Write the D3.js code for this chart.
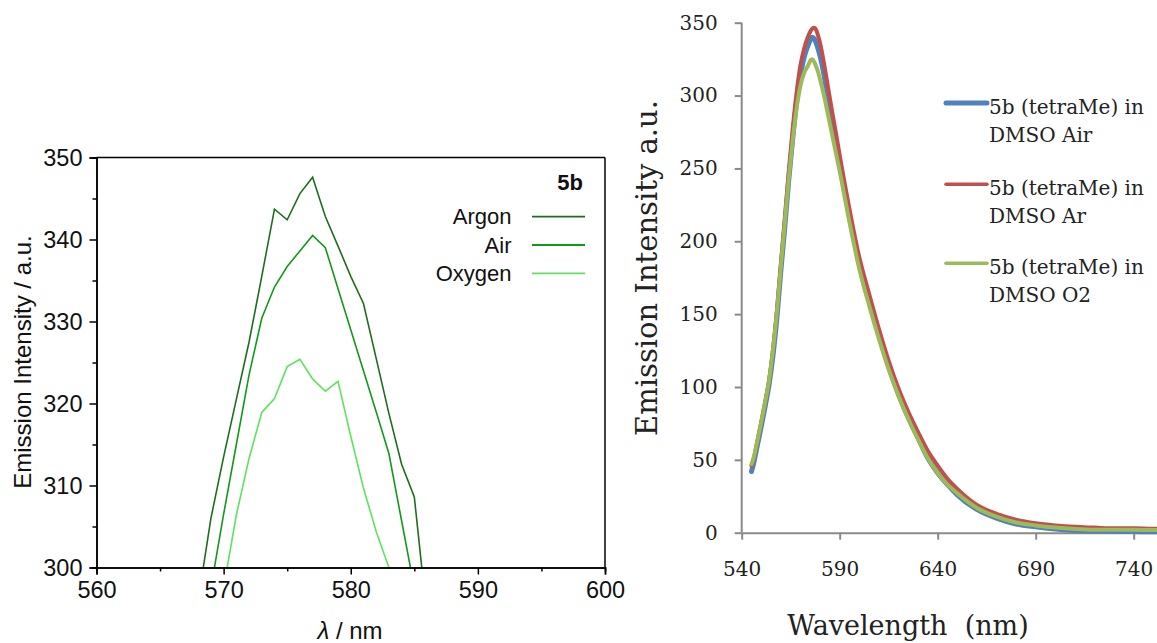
<!DOCTYPE html>
<html>
<head>
<meta charset="utf-8">
<script src="https://cdn.jsdelivr.net/npm/d3@7"></script>
<style>
html,body{margin:0;padding:0;background:#fff;}
svg{display:block;}
</style>
</head>
<body>
<script>
// ---------- Left panel data (λ / nm vs Emission Intensity) ----------
const leftArgonX = [568,569,570,571,572,573,574,575,576,577,578,579,580,581,582,583,584,585,586];
const leftArgonY = [296,306,313.5,320.5,327.5,335.5,343.7,342.4,345.6,347.6,342.8,339.2,335.5,332.2,325.5,318.8,312.6,308.6,294];
const leftAirX = [569,570,571,572,573,574,575,576,577,578,579,580,581,582,583,584,585];
const leftAirY = [297.5,306.5,315,323.5,330.4,334.2,336.7,338.6,340.5,339,334,329,324,319,313.9,305.7,297.5];
const leftOxyX = [570,571,572,573,574,575,576,577,578,579,580,581,582,583,584];
const leftOxyY = [297.5,306.4,313.3,318.9,320.6,324.5,325.4,323,321.5,322.7,316,309.7,304.4,300,296];
const leftSeriesNames = ["Argon","Air","Oxygen"];
const leftColors = ["#1d6e1d","#12991a","#5de35d"];
const leftXTicks = [560,570,580,590,600];
const leftYTicks = [300,310,320,330,340,350];

// ---------- Right panel data (Wavelength (nm) vs Emission Intensity a.u.) ----------
const rightX = [545,546,548,550,552,554,556,558,560,562,564,566,568,570,572,574,575,576,577,578,579,580,582,584,586,588,590,595,600,605,610,615,620,625,630,635,640,645,650,660,670,680,690,700,710,720,730,740,750,756];
const rightAir = [42,47,60,73,87,102,122,148,180,210,242,270,296,314,327,335,338,340,339,336,332,327,314,298,283,268,253,217,184,159,136,114,95,79,65,51,41,33,26,16,10,6,4,2.5,1.5,1.2,1,0.8,0.6,0.6];
const rightAr = [46,50,63,76,90,105,126,153,185,216,248,277,302,321,333,341,344,346,346.5,345,341,336,322,306,290,275,259,222,189,164,140,118,99,83,69,56,46,37,30,19,13,9,6.5,5,4,3.5,3,3,2.7,2.7];
const rightO2 = [47,51,63,76,90,105,126,152,183,213,243,269,291,307,316,321,324,325,323,320,316,311,300,287,274,261,248,213,181,156,133,112,94,78,64,51,41,33,27,17,11,7,5,3.5,2.5,2,2,2,1.8,1.8];
const rightNames = ["5b (tetraMe) in|DMSO Air","5b (tetraMe) in|DMSO Ar","5b (tetraMe) in|DMSO O2"];
const rightColors = ["#4f81bd","#c0504d","#9bbb59"];
const rightXTicks = [540,590,640,690,740];
const rightYTicks = [0,50,100,150,200,250,300,350];

const W = 1157, H = 643;
const svg = d3.select("body").append("svg").attr("width", W).attr("height", H);
svg.append("rect").attr("width", W).attr("height", H).attr("fill", "#fff");

// ================= LEFT PANEL =================
const L = {x0: 96.5, x1: 605, y0: 157.5, y1: 567.5};
const lx = d3.scaleLinear().domain([560, 600]).range([L.x0, L.x1]);
const ly = d3.scaleLinear().domain([300, 350]).range([L.y1, L.y0]);
const lfont = "'Liberation Sans', Arial, sans-serif";

svg.append("clipPath").attr("id", "clipL").append("rect")
  .attr("x", L.x0).attr("y", L.y0).attr("width", L.x1 - L.x0).attr("height", L.y1 - L.y0);

const leftSeries = [
  {name: leftSeriesNames[0], xs: leftArgonX, ys: leftArgonY, color: leftColors[0]},
  {name: leftSeriesNames[1], xs: leftAirX, ys: leftAirY, color: leftColors[1]},
  {name: leftSeriesNames[2], xs: leftOxyX, ys: leftOxyY, color: leftColors[2]}
];
const lline = d3.line().x(d => lx(d[0])).y(d => ly(d[1]));
const gL = svg.append("g").attr("clip-path", "url(#clipL)");
leftSeries.forEach(s => {
  gL.append("path").datum(s.xs.map((x, i) => [x, s.ys[i]]))
    .attr("d", lline).attr("fill", "none").attr("stroke", s.color).attr("stroke-width", 1.6)
    .attr("stroke-linejoin", "miter");
});

// frame top/right
svg.append("line").attr("x1", L.x0).attr("x2", L.x1).attr("y1", L.y0).attr("y2", L.y0).attr("stroke", "#000").attr("stroke-width", 1.5);
svg.append("line").attr("x1", L.x1).attr("x2", L.x1).attr("y1", L.y0).attr("y2", L.y1).attr("stroke", "#000").attr("stroke-width", 1.5);

// axes
const lxAxis = svg.append("g").attr("transform", `translate(0,${L.y1})`)
  .call(d3.axisBottom(lx).tickValues(leftXTicks).tickSize(7).tickPadding(7).tickFormat(d3.format("d")));
const lxMinor = svg.append("g").attr("transform", `translate(0,${L.y1})`)
  .call(d3.axisBottom(lx).tickValues([565,575,585,595]).tickSize(4).tickFormat(""));
const lyAxis = svg.append("g").attr("transform", `translate(${L.x0},0)`)
  .call(d3.axisLeft(ly).tickValues(leftYTicks).tickSize(7).tickPadding(7).tickFormat(d3.format("d")));
const lyMinor = svg.append("g").attr("transform", `translate(${L.x0},0)`)
  .call(d3.axisLeft(ly).tickValues([305,315,325,335,345]).tickSize(4).tickFormat(""));
[lxAxis, lxMinor, lyAxis, lyMinor].forEach(g => {
  g.select(".domain").attr("stroke", "#000").attr("stroke-width", 1.5);
  g.selectAll(".tick line").attr("stroke", "#000").attr("stroke-width", 1.5);
  g.selectAll("text").attr("font-family", lfont).attr("font-size", 23.5).attr("fill", "#111");
});

// axis titles
svg.append("text").attr("transform", "translate(31,362) rotate(-90)")
  .attr("text-anchor", "middle").attr("font-family", lfont).attr("font-size", 24).attr("fill", "#111")
  .text("Emission Intensity / a.u.");
const lxt = svg.append("text").attr("x", 350).attr("y", 639).attr("text-anchor", "middle")
  .attr("font-family", lfont).attr("font-size", 24).attr("fill", "#111");
lxt.append("tspan").attr("font-style", "italic").text("λ");
lxt.append("tspan").text(" / nm");

// legend
svg.append("text").attr("x", 583).attr("y", 190).attr("text-anchor", "end")
  .attr("font-family", lfont).attr("font-size", 22).attr("font-weight", "bold").attr("fill", "#111").text("5b");
leftSeries.forEach((s, i) => {
  const yy = 216.7 + i * 28.3;
  svg.append("text").attr("x", 511.5).attr("y", yy + 7.5).attr("text-anchor", "end")
    .attr("font-family", lfont).attr("font-size", 22).attr("fill", "#111").text(s.name);
  svg.append("line").attr("x1", 532).attr("x2", 585).attr("y1", yy).attr("y2", yy)
    .attr("stroke", s.color).attr("stroke-width", 1.8);
});

// ================= RIGHT PANEL =================
const R = {x0: 741.7, y0: 22.7, y1: 532.7};
const rx = d3.scaleLinear().domain([540, 760]).range([R.x0, R.x0 + 220 * 1.96]);
const ry = d3.scaleLinear().domain([0, 350]).range([R.y1, R.y0]);
const rfont = "'DejaVu Serif', 'Liberation Serif', serif";
const axisGray = "#8a8a8a";

const rxAxis = svg.append("g").attr("transform", `translate(0,${R.y1})`)
  .call(d3.axisBottom(rx).tickValues(rightXTicks).tickSize(7).tickPadding(22).tickSizeOuter(0).tickFormat(d3.format("d")));
const ryAxis = svg.append("g").attr("transform", `translate(${R.x0},0)`)
  .call(d3.axisLeft(ry).tickValues(rightYTicks).tickSize(7).tickPadding(17).tickSizeOuter(0).tickFormat(d3.format("d")));
ryAxis.select(".domain").attr("d", `M0,${R.y1}V${R.y0}`);
[rxAxis, ryAxis].forEach(g => {
  g.select(".domain").attr("stroke", axisGray).attr("stroke-width", 2);
  g.selectAll(".tick line").attr("stroke", axisGray).attr("stroke-width", 2);
  g.selectAll("text").attr("font-family", rfont).attr("font-size", 20).attr("fill", "#222");
});

const rline = d3.line().curve(d3.curveMonotoneX).x(d => rx(d[0])).y(d => ry(d[1]));
const rightSeries = [
  {name: rightNames[0], ys: rightAir, color: rightColors[0], w: 5},
  {name: rightNames[1], ys: rightAr, color: rightColors[1], w: 4},
  {name: rightNames[2], ys: rightO2, color: rightColors[2], w: 4}
];
rightSeries.forEach(s => {
  svg.append("path").datum(rightX.map((x, i) => [x, s.ys[i]]))
    .attr("d", rline).attr("fill", "none").attr("stroke", s.color).attr("stroke-width", s.w)
    .attr("stroke-linejoin", "round").attr("stroke-linecap", "round");
});

// legend
const legYs = [103, 184.3, 263.3];
rightSeries.forEach((s, i) => {
  const yy = legYs[i];
  svg.append("line").attr("x1", 946).attr("x2", 987).attr("y1", yy).attr("y2", yy)
    .attr("stroke", s.color).attr("stroke-width", i === 0 ? 5 : 3.5).attr("stroke-linecap", "round");
  const parts = s.name.split("|");
  const t = svg.append("text").attr("font-family", rfont).attr("font-size", 20).attr("fill", "#222");
  t.append("tspan").attr("x", 989).attr("y", yy + 11).text(parts[0]);
  t.append("tspan").attr("x", 989).attr("y", yy + 38.5).text(parts[1]);
});

// titles
svg.append("text").attr("transform", "translate(657,268) rotate(-90)")
  .attr("text-anchor", "middle").attr("font-family", rfont).attr("font-size", 29).attr("fill", "#222")
  .text("Emission Intensity a.u.");
svg.append("text").attr("x", 908).attr("y", 635).attr("text-anchor", "middle")
  .attr("font-family", rfont).attr("font-size", 27).attr("fill", "#222")
  .style("white-space", "pre").text("Wavelength  (nm)");
</script>
</body>
</html>
